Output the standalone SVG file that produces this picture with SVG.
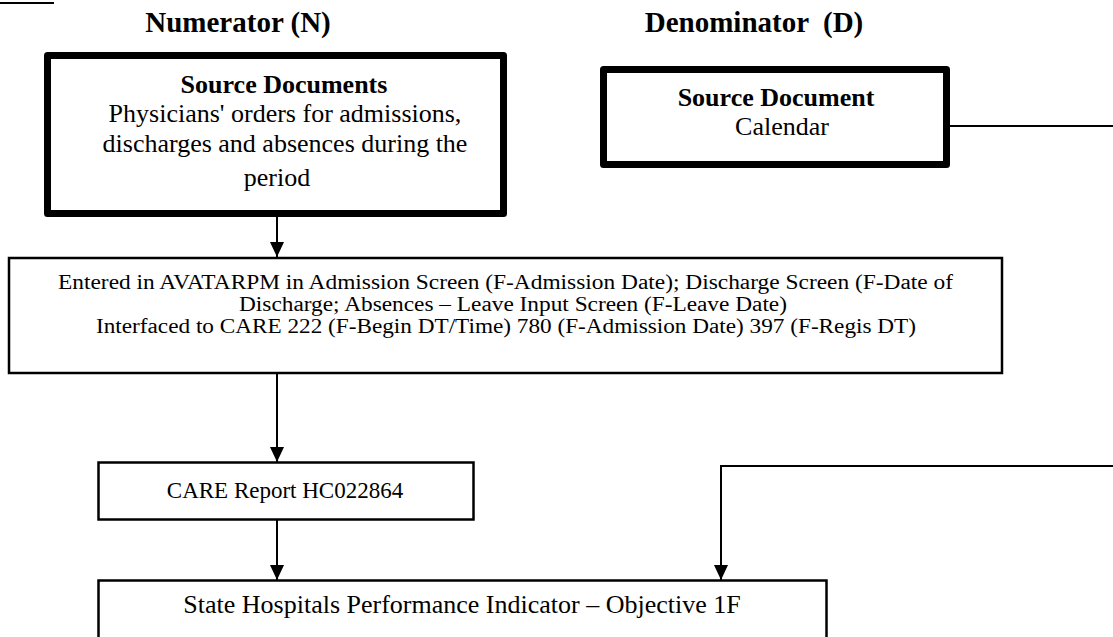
<svg xmlns="http://www.w3.org/2000/svg" width="1113" height="637" viewBox="0 0 1113 637">
<style>
text{font-family:"Liberation Serif","Times New Roman",serif;fill:#000;}
.h{font-weight:bold;font-size:29px;text-anchor:middle;}
.b{font-weight:bold;font-size:26px;}
.t26{font-size:26px;}
.t23{font-size:23px;}
.t20{font-size:20px;}
.thick{fill:#fff;stroke:#000;stroke-width:7;stroke-linejoin:round;}
.thin{fill:#fff;stroke:#000;stroke-width:2.5;}
.c{fill:none;stroke:#000;stroke-width:2;}
</style>
<rect width="1113" height="637" fill="#fff"/>
<line x1="0" y1="3" x2="54" y2="3" stroke="#000" stroke-width="2"/>
<text class="h" x="238" y="32">Numerator (N)</text>
<text class="h" x="754" y="32" xml:space="preserve">Denominator  (D)</text>

<g id="connectors">
<line class="c" x1="277" y1="217" x2="277" y2="257"/>
<path class="c" d="M277,373 V462"/>
<path class="c" d="M277,520 V580"/>
<path class="c" d="M950,126 H1113"/>
<path class="c" d="M1113,466 H721 V580"/>
<path d="M270,242 L284,242 L277,257 z"/>
<path d="M270,447 L284,447 L277,462 z"/>
<path d="M270,565 L284,565 L277,580 z"/>
<path d="M714,565 L728,565 L721,580 z"/>
</g>

<g id="node-source-documents">
<rect class="thick" x="47.5" y="55.5" width="456" height="158"/>
<text class="b" x="284" y="93" text-anchor="middle">Source Documents</text>
<text class="t26" x="285" y="122" text-anchor="middle">Physicians' orders for admissions,</text>
<text class="t26" x="285" y="152" text-anchor="middle">discharges and absences during the</text>
<text class="t26" x="277" y="186" text-anchor="middle">period</text>
</g>

<g id="node-source-document-calendar">
<rect class="thick" x="603.5" y="69.5" width="343" height="95"/>
<text class="b" x="776" y="106" text-anchor="middle">Source Document</text>
<text class="t26" x="782" y="135" text-anchor="middle">Calendar</text>
</g>

<g id="node-avatar">
<rect class="thin" x="9" y="258" width="993" height="115"/>
<text class="t20" x="58" y="288.5" textLength="895" lengthAdjust="spacingAndGlyphs">Entered in AVATARPM in Admission Screen (F-Admission Date); Discharge Screen (F-Date of</text>
<text class="t20" x="239" y="310.5" textLength="548" lengthAdjust="spacingAndGlyphs">Discharge; Absences – Leave Input Screen (F-Leave Date)</text>
<text class="t20" x="96" y="332.5" textLength="820" lengthAdjust="spacingAndGlyphs">Interfaced to CARE 222 (F-Begin DT/Time) 780 (F-Admission Date) 397 (F-Regis DT)</text>
</g>

<g id="node-care-report">
<rect class="thin" x="98.5" y="462.5" width="375" height="57"/>
<text class="t23" x="285" y="498" text-anchor="middle">CARE Report HC022864</text>
</g>

<g id="node-state-hospitals">
<rect class="thin" x="98.5" y="580.5" width="728" height="70"/>
<text class="t26" x="462" y="613" text-anchor="middle">State Hospitals Performance Indicator – Objective 1F</text>
</g>
</svg>
